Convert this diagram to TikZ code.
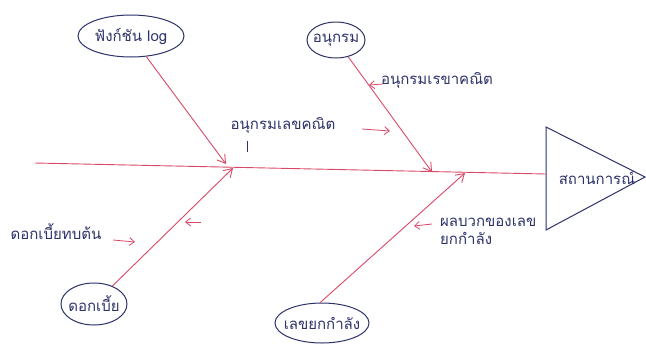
\documentclass[tikz,border=0pt]{standalone}
\usepackage{fontspec}
\newfontfamily\thaifont[Script=Thai]{Loma}
\usetikzlibrary{arrows.meta,shapes.geometric}
\definecolor{ink}{RGB}{45,50,105}
\definecolor{bone}{RGB}{218,72,104}
\begin{document}
\begin{tikzpicture}[x=1pt,y=-1pt,
  oval/.style={ellipse, draw=ink, line width=1pt, inner sep=0pt},
  lbl/.style={text=ink, inner sep=0pt, font=\thaifont\fontsize{15}{18}\selectfont},
  bonel/.style={draw=bone, line width=0.9pt},
  bonearrow/.style={bonel, -{Straight Barb[length=8pt,width=10pt]}},
  hint/.style={bonel, line width=0.8pt, -{Straight Barb[length=5pt,width=8pt]}},
  headbox/.style={draw=ink, line width=1pt}]
\useasboundingbox (0,0) rectangle (646,354);
\fill[white] (0,0) rectangle (646,354);

% head of the fish
\draw[headbox] (546,127) -- (645,177) -- (546,230) -- cycle;
\node[lbl] (head) at (597,178) {สถานการณ์};

% spine
\coordinate (tail) at (35,163);
\coordinate (neck) at (546,174);
\draw[bonel] (tail) -- (neck);

% joints of the bones on the spine
\coordinate (jA) at (226,164);
\coordinate (jB) at (432,172);
\coordinate (jC) at (233,168);
\coordinate (jD) at (465,173);

% cause ovals
\node[oval, minimum width=106pt, minimum height=42pt] (ovA) at (131,36) {};
\node[lbl] (tA) at (ovA) {ฟังก์ชัน log};
\node[oval, minimum width=58pt, minimum height=36pt] (ovB) at (336,40) {};
\node[lbl] (tB) at (ovB) {อนุกรม};
\node[oval, minimum width=66pt, minimum height=42pt] (ovC) at (94,304) {};
\node[lbl] (tC) at (ovC) {ดอกเบี้ย};
\node[oval, minimum width=94pt, minimum height=40pt] (ovD) at (322,323) {};
\node[lbl] (tD) at (ovD) {เลขยกกำลัง};

% bones
\draw[bonearrow] (ovA) -- (jA);
\draw[bonearrow] (ovB) -- (jB);
\draw[bonearrow] (ovC) -- (jC);
\draw[bonearrow] (ovD.95) -- (jD);

% sub-causes
\node[lbl] (sB) at (437,80) {อนุกรมเรขาคณิต};
\coordinate (sBa) at (383,84);
\coordinate (sBb) at (369,85);
\draw[hint] (sBa) -- (sBb);

\node[lbl] (sA) at (283,125) {อนุกรมเลขคณิต};
\coordinate (sAa) at (362,129);
\coordinate (sAb) at (390,131);
\draw[hint] (sAa) -- (sAb);
\draw[ink, line width=0.8pt] (247,141) -- (247,152);

\node[lbl] (sC) at (56,232) {ดอกเบี้ยทบต้น};
\coordinate (sCa) at (113,240);
\coordinate (sCb) at (135,242);
\draw[hint] (sCa) -- (sCb);
\coordinate (sCc) at (201,222);
\coordinate (sCd) at (185,222);
\draw[hint] (sCc) -- (sCd);

\node[lbl, align=left, anchor=north west] (sD) at (440,218) {ผลบวกของเลข\\ยกกำลัง};
\coordinate (sDa) at (432,224);
\coordinate (sDb) at (414,226);
\draw[hint] (sDa) -- (sDb);
\end{tikzpicture}
\end{document}
